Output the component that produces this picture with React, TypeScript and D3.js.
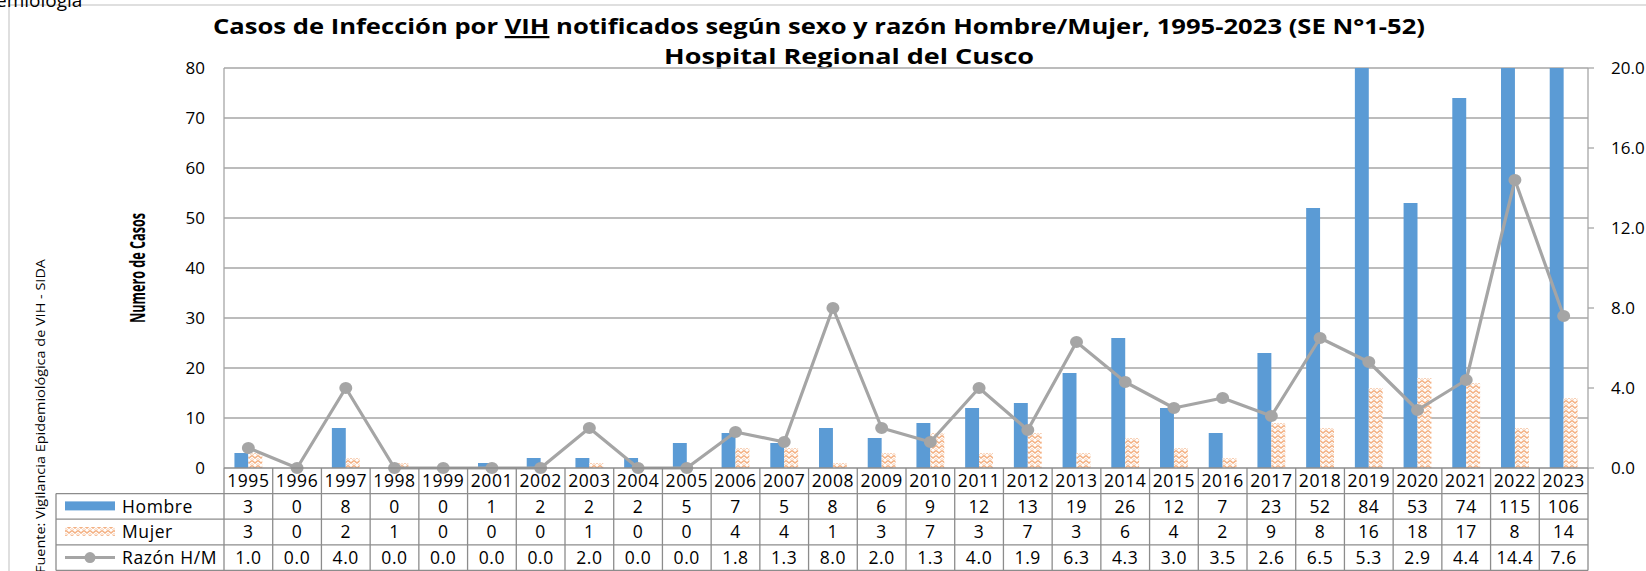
import React from "react";
import * as d3 from "d3";

// data
const years = ["1995", "1996", "1997", "1998", "1999", "2001", "2002", "2003", "2004", "2005", "2006", "2007", "2008", "2009", "2010", "2011", "2012", "2013", "2014", "2015", "2016", "2017", "2018", "2019", "2020", "2021", "2022", "2023"];
const hombre = [3, 0, 8, 0, 0, 1, 2, 2, 2, 5, 7, 5, 8, 6, 9, 12, 13, 19, 26, 12, 7, 23, 52, 84, 53, 74, 115, 106];
const mujer = [3, 0, 2, 1, 0, 0, 0, 1, 0, 0, 4, 4, 1, 3, 7, 3, 7, 3, 6, 4, 2, 9, 8, 16, 18, 17, 8, 14];
const razon = [1.0, 0.0, 4.0, 0.0, 0.0, 0.0, 0.0, 2.0, 0.0, 0.0, 1.8, 1.3, 8.0, 2.0, 1.3, 4.0, 1.9, 6.3, 4.3, 3.0, 3.5, 2.6, 6.5, 5.3, 2.9, 4.4, 14.4, 7.6];
const leftTicks = [0, 10, 20, 30, 40, 50, 60, 70, 80];
const rightTicks = [0, 4, 8, 12, 16, 20];

const W = 1646, H = 571;
const margin = { top: 68, left: 224, right: 58, bottom: 103 };
const plotBottom = H - margin.bottom;
const plotRight = W - margin.right;
const rowH = 25.6;
const legendLeft = 56;

const font = "'Open Sans', sans-serif";
const gridColor = "#a6a6a6";
const tableColor = "#8c8c8c";
const blue = "#5b9bd5";
const orange = "#f4b183";
const gray = "#a5a5a5";

export default function App() {
  const x = d3.scaleBand().domain(years).range([margin.left, plotRight]);
  const bw = x.bandwidth();
  const inner = d3.scaleBand().domain(["h", "m"]).range([0, bw]).paddingInner(0).paddingOuter(0.75);
  const yL = d3.scaleLinear().domain([0, 80]).range([plotBottom, margin.top]);
  const yR = d3.scaleLinear().domain([0, 20]).range([plotBottom, margin.top]);
  const cx = (y: string) => (x(y) as number) + bw / 2;

  const line = d3.line<number>()
    .x((_, i) => cx(years[i]))
    .y(d => yR(d));

  const clip = (v: number) => Math.min(v, 80);

  const rows = [
    { key: "Hombre", vals: hombre.map(String) },
    { key: "Mujer", vals: mujer.map(String) },
    { key: "Razón H/M", vals: razon.map(d => d.toFixed(1)) },
  ];
  const tableBottom = plotBottom + rowH * 4;

  return (
    <svg width={W} height={H} style={{ position: "absolute", left: 0, top: 0, background: "#fff" }} fontFamily={font}>
      <defs>
        <pattern id="zig" width="6" height="5" patternUnits="userSpaceOnUse">
          <rect width="6" height="5" fill="#fff" />
          <path d="M0,0.5 L3,3 L6,0.5" fill="none" stroke={orange} strokeWidth="1.5" />
          <path d="M0,3.5 L3,6 L6,3.5" fill="none" stroke="#f8cbad" strokeWidth="1" />
        </pattern>
      </defs>

      {/* chart frame */}
      <path d={`M9,${H} V5 H${W}`} fill="none" stroke="#bfbfbf" strokeWidth="1" />
      <text x={-4} y={7} fontSize={19} fill="#000">emiología</text>

      {/* title */}
      <text x={819} y={34} textAnchor="middle" fontSize={22} fontWeight="bold" fill="#000"
        textLength={1212} lengthAdjust="spacingAndGlyphs">
        Casos de Infección por <tspan textDecoration="underline">VIH</tspan> notificados según sexo y razón Hombre/Mujer, 1995-2023 (SE N°1-52)
      </text>
      <text x={849} y={64} textAnchor="middle" fontSize={22} fontWeight="bold" fill="#000"
        textLength={370} lengthAdjust="spacingAndGlyphs">Hospital Regional del Cusco</text>

      {/* gridlines */}
      {leftTicks.filter(t => t > 0).map(t => (
        <line key={t} x1={margin.left} x2={plotRight} y1={yL(t)} y2={yL(t)} stroke={gridColor} strokeWidth={1.3} />
      ))}
      <line x1={margin.left} x2={margin.left} y1={margin.top} y2={plotBottom} stroke={gridColor} strokeWidth={1.3} />
      <line x1={plotRight} x2={plotRight} y1={margin.top} y2={plotBottom} stroke={gridColor} strokeWidth={1.3} />
      {rightTicks.map(t => (
        <line key={t} x1={plotRight} x2={plotRight + 6} y1={yR(t)} y2={yR(t)} stroke={gridColor} strokeWidth={1.3} />
      ))}

      {/* axis labels */}
      {leftTicks.map(t => (
        <text key={t} x={205} y={yL(t)} dy="0.35em" textAnchor="end" fontSize={17} fill="#000">{t}</text>
      ))}
      {rightTicks.map(t => (
        <text key={t} x={1611} y={yR(t)} dy="0.35em" fontSize={17} fill="#000">{t.toFixed(1)}</text>
      ))}
      <text transform={`translate(145,268) rotate(-90)`} textAnchor="middle" fontSize={22} fontWeight="bold"
        textLength={110} lengthAdjust="spacingAndGlyphs" fill="#000">Numero de Casos</text>
      <text transform={`translate(45,573) rotate(-90)`} fontSize={13} textLength={314} lengthAdjust="spacingAndGlyphs"
        fill="#000">Fuente: Vigilancia Epidemiológica  de VIH - SIDA</text>

      {/* bars */}
      {years.map((yr, i) => (
        <g key={yr}>
          <rect x={(x(yr) as number) + (inner("h") as number)} width={inner.bandwidth()}
            y={yL(clip(hombre[i]))} height={plotBottom - yL(clip(hombre[i]))} fill={blue} />
          <rect x={(x(yr) as number) + (inner("m") as number)} width={inner.bandwidth()}
            y={yL(clip(mujer[i]))} height={plotBottom - yL(clip(mujer[i]))} fill="url(#zig)" />
        </g>
      ))}

      {/* ratio line */}
      <path d={line(razon) || ""} fill="none" stroke={gray} strokeWidth={3.2} strokeLinejoin="round" />
      {razon.map((d, i) => (
        <ellipse key={i} cx={cx(years[i])} cy={yR(d)} rx={6.5} ry={6} fill={gray} />
      ))}

      {/* data table */}
      <g stroke={tableColor} strokeWidth={1.3}>
        <line x1={margin.left} x2={plotRight} y1={plotBottom} y2={plotBottom} />
        {[1, 2, 3].map(r => (
          <line key={r} x1={legendLeft} x2={plotRight} y1={plotBottom + rowH * r} y2={plotBottom + rowH * r} />
        ))}
        <line x1={legendLeft} x2={plotRight} y1={tableBottom} y2={tableBottom} />
        <line x1={legendLeft} x2={legendLeft} y1={plotBottom + rowH} y2={tableBottom} />
        {years.map(yr => (
          <line key={yr} x1={x(yr)} x2={x(yr)} y1={plotBottom} y2={tableBottom} />
        ))}
        <line x1={plotRight} x2={plotRight} y1={plotBottom} y2={tableBottom} />
      </g>
      {years.map(yr => (
        <text key={yr} x={cx(yr)} y={plotBottom + rowH / 2} dy="0.35em" textAnchor="middle" fontSize={17.5} letterSpacing={0.6} fill="#000">{yr}</text>
      ))}
      {rows.map((row, r) => {
        const yc = plotBottom + rowH * (r + 1) + rowH / 2;
        return (
          <g key={row.key}>
            {r === 0 && <rect x={65} y={yc - 5} width={50} height={9} fill={blue} />}
            {r === 1 && <rect x={65} y={yc - 5} width={50} height={9} fill="url(#zig)" />}
            {r === 2 && (
              <g>
                <line x1={65} x2={115} y1={yc} y2={yc} stroke={gray} strokeWidth={3} />
                <circle cx={90} cy={yc} r={5.5} fill={gray} />
              </g>
            )}
            <text x={122} y={yc} dy="0.35em" fontSize={17.5} letterSpacing={0.6} fill="#000">{row.key}</text>
            {row.vals.map((v, i) => (
              <text key={i} x={cx(years[i])} y={yc} dy="0.35em" textAnchor="middle" fontSize={17.5} letterSpacing={0.6} fill="#000">{v}</text>
            ))}
          </g>
        );
      })}
    </svg>
  );
}
